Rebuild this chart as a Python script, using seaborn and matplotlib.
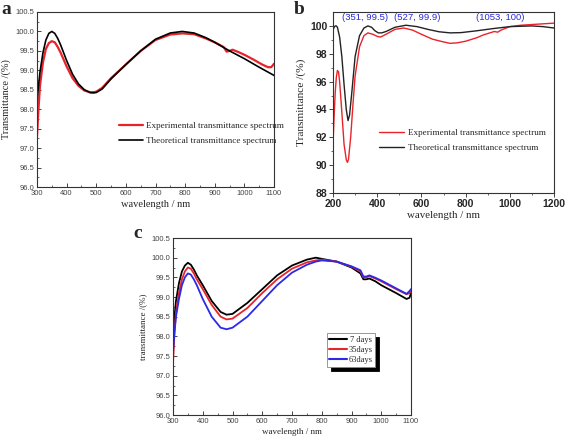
import numpy as np
import pandas as pd
import matplotlib
matplotlib.use("Agg")
import matplotlib.pyplot as plt
import seaborn as sns

sns.set_style("ticks")
plt.rcParams['font.family'] = ['Liberation Serif', 'DejaVu Serif']

# ---- panel a data ----
a_exp_wl = [300, 305, 310, 320, 330, 340, 350, 360, 370, 380, 400, 420, 440, 460, 480, 500,
            520, 550, 600, 650, 700, 750, 790, 830, 870, 900, 930, 940, 950, 960, 980, 1000,
            1030, 1060, 1080, 1090, 1095, 1100]
a_exp_t = [97.3, 98.0, 98.6, 99.2, 99.55, 99.7, 99.75, 99.72, 99.6, 99.45, 99.1, 98.8, 98.6, 98.48, 98.43, 98.45,
           98.55, 98.8, 99.15, 99.5, 99.78, 99.92, 99.95, 99.93, 99.82, 99.72, 99.6, 99.48, 99.5, 99.53, 99.47, 99.4,
           99.28, 99.15, 99.08, 99.08, 99.12, 99.17]
a_th_wl = [300, 305, 310, 320, 330, 340, 350, 360, 370, 380, 400, 420, 440, 460, 480, 490, 500,
           520, 550, 600, 650, 700, 750, 790, 830, 870, 900, 950, 1000, 1050, 1100]
a_th_t = [98.2, 98.6, 98.95, 99.45, 99.78, 99.95, 100.0, 99.95, 99.82, 99.65, 99.25, 98.9, 98.65, 98.5, 98.43, 98.42, 98.43,
          98.52, 98.78, 99.15, 99.5, 99.8, 99.96, 100.0, 99.96, 99.84, 99.72, 99.5, 99.3, 99.08, 98.87]

# ---- panel b data ----
b_exp_wl = [200, 205, 210, 215, 220, 225, 230, 240, 250, 260, 265, 270, 280, 290, 300, 320, 340, 358, 380,
            400, 415, 440, 480, 520, 560, 600, 650, 700, 730, 760, 800, 850, 880, 900, 930, 945, 960, 1000,
            1050, 1100, 1150, 1200]
b_exp_t = [91.5, 93.5, 95.2, 96.3, 96.8, 96.7, 96.0, 93.8, 91.5, 90.4, 90.2, 90.4, 92.0, 94.3, 96.4, 98.5, 99.3, 99.5, 99.4,
           99.25, 99.2, 99.4, 99.75, 99.85, 99.7, 99.4, 99.05, 98.85, 98.75, 98.78, 98.9, 99.15, 99.35, 99.45, 99.6, 99.55, 99.7, 99.95,
           100.05, 100.1, 100.15, 100.2]
b_th_wl = [200, 205, 210, 215, 220, 230, 240, 250, 260, 268, 275, 285, 300, 320, 340, 358, 375, 390, 405,
           420, 440, 480, 530, 580, 630, 680, 730, 780, 850, 920, 1000, 1100, 1150, 1200]
b_th_t = [99.7, 99.9, 100.0, 100.0, 99.9, 99.2, 97.8, 95.8, 94.0, 93.2, 93.6, 95.2, 97.8, 99.3, 99.85, 100.0, 99.9, 99.65, 99.5,
          99.5, 99.6, 99.9, 100.05, 99.95, 99.75, 99.58, 99.5, 99.52, 99.65, 99.8, 99.95, 100.0, 99.95, 99.85]
b_notes = ["(351, 99.5)", "(527, 99.9)", "(1053, 100)"]
b_note_x = [345, 580, 955]

# ---- panel c data ----
c_wl = [300, 305, 310, 320, 330, 340, 350, 360, 370, 380, 400, 430, 460, 480, 500, 550, 600, 650, 700, 750,
        780, 800, 850, 900, 930, 940, 950, 960, 980, 1000, 1050, 1085, 1095, 1100]
c_7 = [97.9, 98.5, 98.9, 99.35, 99.65, 99.8, 99.87, 99.82, 99.7, 99.55, 99.3, 98.9, 98.62, 98.55, 98.57, 98.85, 99.2, 99.55, 99.8, 99.95,
       100.0, 99.97, 99.9, 99.75, 99.6, 99.45, 99.45, 99.47, 99.4, 99.3, 99.1, 98.95, 98.98, 99.1]
c_35 = [97.3, 98.1, 98.6, 99.1, 99.45, 99.65, 99.75, 99.72, 99.6, 99.45, 99.2, 98.8, 98.5, 98.43, 98.45, 98.72, 99.1, 99.45, 99.72, 99.88,
        99.93, 99.95, 99.9, 99.77, 99.65, 99.5, 99.5, 99.53, 99.47, 99.4, 99.2, 99.07, 99.1, 99.15]
c_63 = [97.6, 98.1, 98.5, 98.95, 99.3, 99.5, 99.6, 99.57, 99.45, 99.3, 98.95, 98.5, 98.22, 98.18, 98.22, 98.5, 98.9, 99.3, 99.62, 99.82,
        99.9, 99.93, 99.9, 99.78, 99.68, 99.52, 99.52, 99.55, 99.49, 99.42, 99.22, 99.08, 99.15, 99.2]
c_labels = [" 7 days", "35days", "63days"]

W, H = 567, 438
fig = plt.figure(figsize=(W / 100, H / 100), dpi=100)


def box(l, t, r, b):
    return [l / W, 1 - b / H, (r - l) / W, (b - t) / H]


tick_gray = '#444444'
sans = ['Liberation Sans', 'DejaVu Sans']

# ---------- panel a ----------
axa = fig.add_axes(box(37, 12, 274, 187))
sns.lineplot(x=a_exp_wl, y=a_exp_t, ax=axa, color='#e8242a', lw=1.6, label='Experimental transmittance spectrum')
sns.lineplot(x=a_th_wl, y=a_th_t, ax=axa, color='black', lw=1.2, label='Theoretical transmittance spectrum')
axa.set_xlim(300, 1100)
axa.set_ylim(96.0, 100.5)
axa.set_xticks(range(300, 1101, 100))
axa.set_yticks(np.arange(96.0, 100.51, 0.5))
axa.set_xticks(range(350, 1100, 100), minor=True)
axa.set_yticks(np.arange(96.25, 100.5, 0.5), minor=True)
axa.yaxis.set_major_formatter(matplotlib.ticker.FormatStrFormatter('%.1f'))
axa.tick_params(direction='in', length=3, labelsize=5.5, labelcolor=tick_gray, width=0.6, pad=2)
axa.tick_params(which='minor', direction='in', length=1.5, width=0.5)
for lab in axa.get_xticklabels() + axa.get_yticklabels():
    lab.set_family(sans)
axa.set_xlabel('wavelength / nm', fontsize=7.5, labelpad=2)
axa.set_ylabel('Transmittance /(%)', fontsize=7.5, labelpad=3)
axa.legend(loc='upper left', bbox_to_anchor=(0.33, 0.395), frameon=False, fontsize=6.6,
           handlelength=2.6, handletextpad=0.4, labelspacing=0.75, borderaxespad=0)
for s in axa.spines.values():
    s.set_linewidth(0.8)
    s.set_color('#333333')

# ---------- panel b ----------
axb = fig.add_axes(box(333, 12, 554, 193))
sns.lineplot(x=b_exp_wl, y=b_exp_t, ax=axb, color='#e8242a', lw=1.0, label='Experimental transmittance spectrum')
sns.lineplot(x=b_th_wl, y=b_th_t, ax=axb, color='#222222', lw=1.0, label='Theoretical transmittance spectrum')
axb.set_xlim(200, 1200)
axb.set_ylim(88, 101)
axb.set_xticks(range(200, 1201, 200))
axb.set_xticks(range(300, 1200, 200), minor=True)
axb.set_yticks(range(88, 101, 2))
axb.set_yticks(range(89, 101, 2), minor=True)
axb.tick_params(direction='out', length=3, labelsize=7.5, width=0.6, pad=1)
axb.tick_params(which='minor', direction='out', length=1.5, width=0.5)
for lab in axb.get_xticklabels() + axb.get_yticklabels():
    lab.set_family(sans)
    lab.set_fontweight('bold')
axb.set_xlabel('wavelength / nm', fontsize=7.8, labelpad=2)
axb.set_ylabel('Transmittance /(%)', fontsize=8.2, labelpad=3)
axb.legend(loc='upper left', bbox_to_anchor=(0.19, 0.375), frameon=False, fontsize=6.6,
           handlelength=2.8, handletextpad=0.4, labelspacing=0.7, borderaxespad=0)
for nx, nt in zip(b_note_x, b_notes):
    axb.text(nx, 100.62, nt, color='#2a2ad8', fontsize=6.8, ha='center', va='center', family=sans)
for s in axb.spines.values():
    s.set_linewidth(0.8)
    s.set_color('#333333')

# ---------- panel c ----------
axc = fig.add_axes(box(173, 238, 411, 415))
df_c = pd.DataFrame({'wavelength': c_wl * 3,
                     'T': c_7 + c_35 + c_63,
                     'age': [c_labels[0]] * len(c_wl) + [c_labels[1]] * len(c_wl) + [c_labels[2]] * len(c_wl)})
sns.lineplot(data=df_c, x='wavelength', y='T', hue='age', ax=axc,
             palette=['black', '#e8242a', '#2a2ae8'], lw=1.3)
axc.set_xlim(300, 1100)
axc.set_ylim(96.0, 100.5)
axc.set_xticks(range(300, 1101, 100))
axc.set_xticks(range(350, 1100, 100), minor=True)
axc.set_yticks(np.arange(96.0, 100.51, 0.5))
axc.set_yticks(np.arange(96.25, 100.5, 0.5), minor=True)
axc.yaxis.set_major_formatter(matplotlib.ticker.FormatStrFormatter('%.1f'))
axc.tick_params(direction='in', length=3, labelsize=5.5, labelcolor=tick_gray, width=0.6, pad=2)
axc.tick_params(which='minor', direction='in', length=1.5, width=0.5)
for lab in axc.get_xticklabels() + axc.get_yticklabels():
    lab.set_family(sans)
axc.set_xlabel('wavelength / nm', fontsize=6.5, labelpad=2)
axc.set_ylabel('transmittance /(%)', fontsize=6.5, labelpad=3)
leg = axc.legend(loc='upper left', bbox_to_anchor=(0.645, 0.462), fontsize=6, frameon=True,
                 fancybox=False, shadow={'color': 'black', 'alpha': 1, 'ox': 3, 'oy': -3},
                 edgecolor='#888888', handlelength=2.1, handletextpad=0.15, labelspacing=0.25,
                 borderpad=0.35, borderaxespad=0)
leg.get_frame().set_linewidth(0.6)
for line in leg.get_lines():
    line.set_linewidth(1.5)
for s in axc.spines.values():
    s.set_linewidth(0.8)
    s.set_color('#333333')

# panel letters
fig.text(6 / W, 1 - 10 / H, 'a', fontsize=14, fontweight='bold', va='center', ha='center')
fig.text(299 / W, 1 - 9 / H, 'b', fontsize=14, fontweight='bold', va='center', ha='center')
fig.text(138 / W, 1 - 233 / H, 'c', fontsize=14, fontweight='bold', va='center', ha='center')

fig.savefig('out.png', dpi=100)
